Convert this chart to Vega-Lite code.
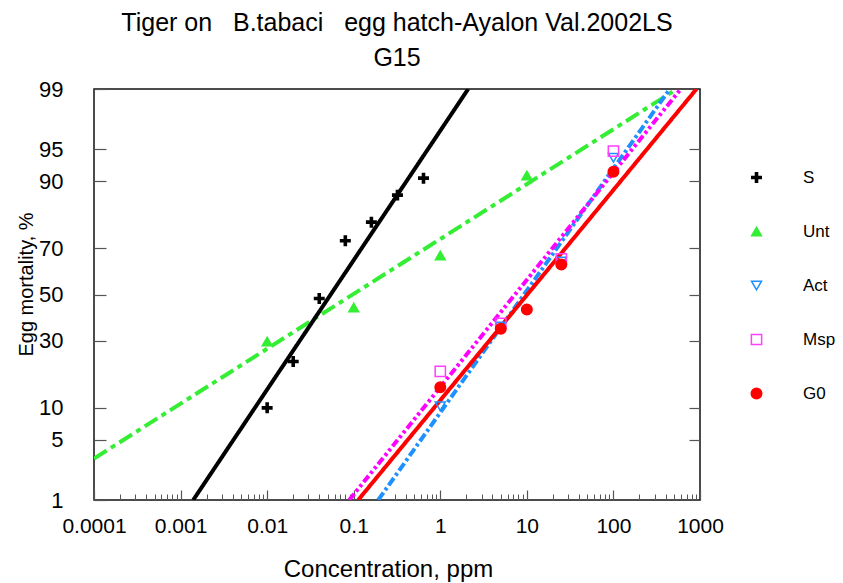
{
  "$schema": "https://vega.github.io/schema/vega-lite/v6.json",
  "width": 606,
  "height": 411,
  "autosize": {"type": "none"},
  "padding": {"left": 94, "top": 89, "right": 143, "bottom": 83},
  "background": "white",
  "config": {
    "view": {"stroke": "#111111", "strokeWidth": 1.5},
    "font": "Liberation Sans",
    "axis": {"labelFont": "Liberation Sans", "titleFont": "Liberation Sans", "labelColor": "black", "titleColor": "black", "tickColor": "#555555", "grid": false, "labelFlush": false, "labelOverlap": false},
    "legend": {"labelFont": "Liberation Sans", "labelColor": "black", "labelFontSize": 17, "rowPadding": 36, "labelOffset": 38, "symbolStrokeWidth": 1.5, "padding": 0}
  },
  "title": {
    "text": ["Tiger on\u00a0\u00a0 B.tabaci\u00a0\u00a0 egg hatch-Ayalon Val.2002LS", "G15"],
    "fontSize": 25,
    "font": "Liberation Sans",
    "fontWeight": "normal",
    "lineHeight": 35,
    "anchor": "middle",
    "offset": 7,
    "color": "black"
  },
  "datasets": {
    "lines": [
      {"curve": "Unt", "conc": 0.0001, "probit": -1.857},
      {"curve": "Unt", "conc": 540, "probit": 2.3263},
      {"curve": "Act", "conc": 0.192, "probit": -2.3263},
      {"curve": "Act", "conc": 448, "probit": 2.3263},
      {"curve": "Msp", "conc": 0.0887, "probit": -2.3263},
      {"curve": "Msp", "conc": 600, "probit": 2.3263},
      {"curve": "G0", "conc": 0.1127, "probit": -2.3263},
      {"curve": "G0", "conc": 911, "probit": 2.3263},
      {"curve": "S", "conc": 0.0014, "probit": -2.3263},
      {"curve": "S", "conc": 2.1, "probit": 2.3263}
    ],
    "points": [
      {"series": "S", "conc": 0.01, "mortality": 10.0, "probit": -1.283},
      {"series": "S", "conc": 0.02, "mortality": 22.4, "probit": -0.759},
      {"series": "S", "conc": 0.04, "mortality": 48.2, "probit": -0.045},
      {"series": "S", "conc": 0.08, "mortality": 72.8, "probit": 0.608},
      {"series": "S", "conc": 0.16, "mortality": 79.3, "probit": 0.819},
      {"series": "S", "conc": 0.32, "mortality": 87.0, "probit": 1.125},
      {"series": "S", "conc": 0.64, "mortality": 90.6, "probit": 1.317},
      {"series": "Unt", "conc": 0.01, "mortality": 29.7, "probit": -0.532},
      {"series": "Unt", "conc": 0.1, "mortality": 44.2, "probit": -0.147},
      {"series": "Unt", "conc": 1, "mortality": 67.1, "probit": 0.442},
      {"series": "Unt", "conc": 10, "mortality": 91.1, "probit": 1.348},
      {"series": "Act", "conc": 1, "mortality": 10.3, "probit": -1.265},
      {"series": "Act", "conc": 5, "mortality": 35.9, "probit": -0.362},
      {"series": "Act", "conc": 25, "mortality": 64.6, "probit": 0.374},
      {"series": "Act", "conc": 100, "mortality": 93.9, "probit": 1.548},
      {"series": "Msp", "conc": 1, "mortality": 19.2, "probit": -0.869},
      {"series": "Msp", "conc": 5, "mortality": 37.1, "probit": -0.328},
      {"series": "Msp", "conc": 25, "mortality": 65.7, "probit": 0.404},
      {"series": "Msp", "conc": 100, "mortality": 94.8, "probit": 1.623},
      {"series": "G0", "conc": 1, "mortality": 14.7, "probit": -1.05},
      {"series": "G0", "conc": 5, "mortality": 34.9, "probit": -0.388},
      {"series": "G0", "conc": 10, "mortality": 43.3, "probit": -0.17},
      {"series": "G0", "conc": 25, "mortality": 63.3, "probit": 0.34},
      {"series": "G0", "conc": 100, "mortality": 91.8, "probit": 1.39}
    ]
  },
  "layer": [
    {
      "data": {"name": "lines"},
      "mark": {"type": "line", "strokeCap": "butt", "clip": true},
      "encoding": {
        "x": {
          "field": "conc", "type": "quantitative",
          "scale": {"type": "log", "domain": [0.0001, 1000], "nice": false},
          "axis": {
            "orient": "bottom", "title": null, "labels": false, "domain": false, "grid": false,
            "tickSize": -6, "tickWidth": 1,
            "values": [0.0002,0.0003,0.0004,0.0005,0.0006,0.0007,0.0008,0.0009,0.002,0.003,0.004,0.005,0.006,0.007,0.008,0.009,0.02,0.03,0.04,0.05,0.06,0.07,0.08,0.09,0.2,0.3,0.4,0.5,0.6,0.7,0.8,0.9,2,3,4,5,6,7,8,9,20,30,40,50,60,70,80,90,200,300,400,500,600,700,800,900]
          }
        },
        "y": {
          "field": "probit", "type": "quantitative",
          "scale": {"domain": [-2.3263, 2.3263], "nice": false, "zero": false},
          "axis": {
            "orient": "right", "title": null, "labels": false, "domain": false, "grid": false,
            "tickSize": -11, "tickWidth": 1.2,
            "values": [-1.6449, -1.2816, -0.5244, 0, 0.5244, 1.2816, 1.6449]
          }
        },
        "color": {
          "field": "curve", "type": "nominal",
          "scale": {"domain": ["Unt", "Act", "Msp", "G0", "S"], "range": ["#33ee33", "#1e90ff", "#ff00ff", "#ff0000", "#000000"]},
          "legend": null
        },
        "strokeDash": {
          "field": "curve", "type": "nominal",
          "scale": {"domain": ["Unt", "Act", "Msp", "G0", "S"], "range": [[15, 5, 5, 5], [9, 3, 3, 3], [8, 3, 3, 3, 3, 3], [1, 0], [1, 0]]},
          "legend": null
        },
        "strokeWidth": {
          "field": "curve", "type": "nominal",
          "scale": {"domain": ["Unt", "Act", "Msp", "G0", "S"], "range": [4, 4, 4.5, 2.5, 4]},
          "legend": null
        }
      }
    },
    {
      "data": {"name": "points"},
      "mark": {"type": "point", "opacity": 1, "strokeWidth": 1.5},
      "encoding": {
        "x": {
          "field": "conc", "type": "quantitative",
          "scale": {"type": "log", "domain": [0.0001, 1000], "nice": false},
          "axis": {
            "orient": "bottom", "title": "Concentration, ppm", "domain": false, "grid": false,
            "tickSize": -10, "tickWidth": 1.2,
            "values": [0.0001, 0.001, 0.01, 0.1, 1, 10, 100, 1000],
            "format": "~g",
            "labelFontSize": 21, "labelPadding": 25,
            "titleFontSize": 24, "titleFontWeight": "normal",
            "titleX": 294, "titleY": 69, "titleBaseline": "middle"
          }
        },
        "y": {
          "field": "probit", "type": "quantitative",
          "scale": {"domain": [-2.3263, 2.3263], "nice": false, "zero": false},
          "axis": {
            "orient": "left", "title": "Egg mortality, %", "domain": false, "grid": false,
            "tickSize": -12, "tickWidth": 1.2,
            "values": [-2.3263, -1.6449, -1.2816, -0.5244, 0, 0.5244, 1.2816, 1.6449, 2.3263],
            "labelExpr": "format(cumulativeNormal(datum.value) * 100, '.0f')",
            "labelFontSize": 22, "labelPadding": 43,
            "titleFontSize": 20, "titleFontWeight": "normal",
            "titleX": -68, "titleY": 195, "titleBaseline": "middle", "titleAlign": "center", "titleAngle": -90
          }
        },
        "shape": {
          "field": "series", "type": "nominal",
          "scale": {"domain": ["S", "Unt", "Act", "Msp", "G0"], "range": ["M-1,-0.22H-0.22V-1H0.22V-0.22H1V0.22H0.22V1H-0.22V0.22H-1Z", "triangle-up", "triangle-down", "square", "circle"]},
          "legend": {"title": null, "orient": "none", "legendX": 654, "legendY": 80}
        },
        "size": {
          "field": "series", "type": "nominal",
          "scale": {"domain": ["S", "Unt", "Act", "Msp", "G0"], "range": [90, 110, 100, 100, 120]},
          "legend": {"title": null, "orient": "none", "legendX": 654, "legendY": 80}
        },
        "fill": {
          "field": "series", "type": "nominal",
          "scale": {"domain": ["S", "Unt", "Act", "Msp", "G0"], "range": ["#000000", "#33ee33", "transparent", "transparent", "#ff0000"]},
          "legend": {"title": null, "orient": "none", "legendX": 654, "legendY": 80}
        },
        "stroke": {
          "field": "series", "type": "nominal",
          "scale": {"domain": ["S", "Unt", "Act", "Msp", "G0"], "range": ["#000000", "#33ee33", "#1e90ff", "#ff40ff", "#ff0000"]},
          "legend": {"title": null, "orient": "none", "legendX": 654, "legendY": 80}
        }
      }
    }
  ],
  "resolve": {"axis": {"x": "independent", "y": "independent"}}
}
